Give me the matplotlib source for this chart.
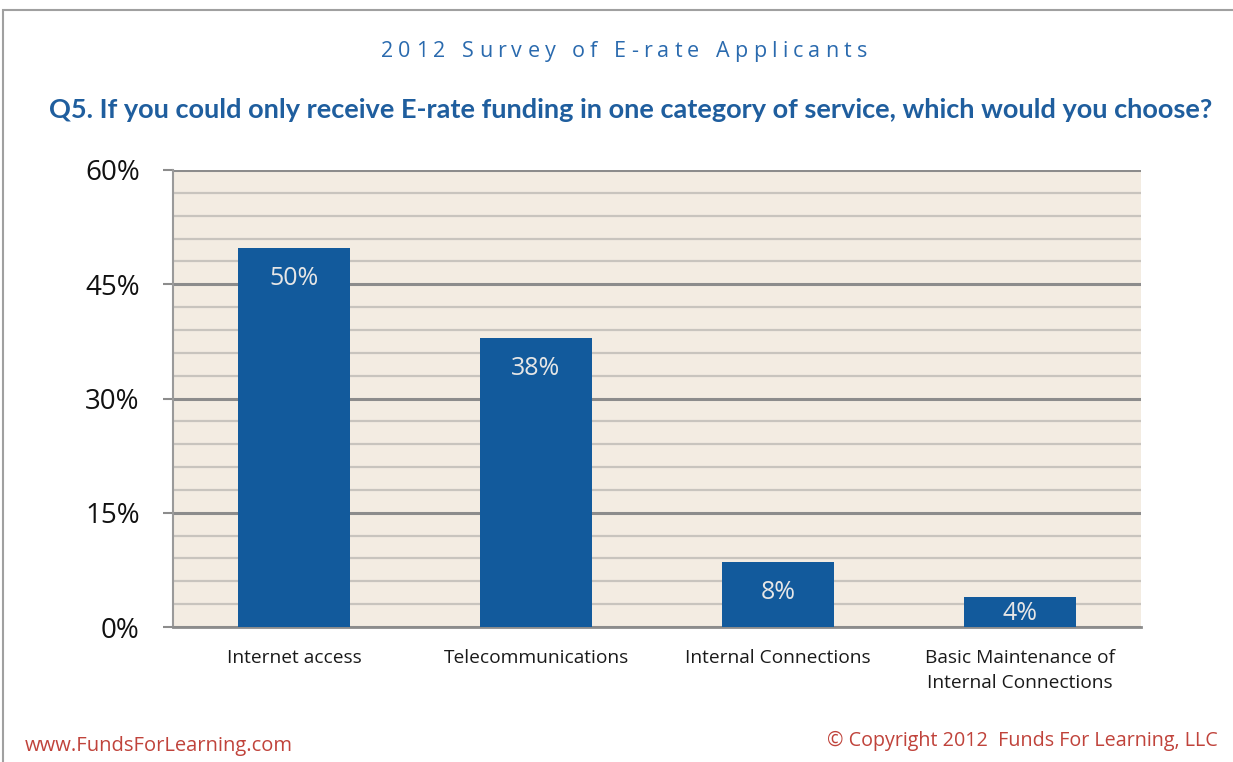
import numpy as np
import matplotlib.pyplot as plt
from matplotlib.ticker import MultipleLocator, FuncFormatter
from matplotlib.patches import Rectangle

categories = ['Internet access', 'Telecommunications', 'Internal Connections',
              'Basic Maintenance of\nInternal Connections']
values = [49.8, 38.0, 8.5, 4.0]
bar_labels = ['50%', '38%', '8%', '4%']

title_top = '2012 Survey of E-rate Applicants'
title_q = 'Q5. If you could only receive E-rate funding in one category of service, which would you choose?'
footer_left = 'www.FundsForLearning.com'
footer_right = '\u00a9 Copyright 2012  Funds For Learning, LLC'

plt.rcParams['font.family'] = ['Open Sans', 'DejaVu Sans']

fig = plt.figure(figsize=(12.33, 7.62), dpi=100)
W, H = 1233, 762
ax = fig.add_axes([173 / W, 1 - 627 / H, (1141 - 173) / W, (627 - 170) / H])

x = np.arange(len(categories))
ax.set_facecolor('#F3ECE2')
ax.bar(x, values, width=0.46, color='#125A9C', zorder=3)
for xi, v, lab in zip(x, values, bar_labels):
    # label sits near the top of the bar, or in the middle of a short one
    ax.text(xi, max(v - 4.0, v / 2 - 0.2), lab, ha='center', va='center',
            color='#E6E6E6', fontsize=18, zorder=4)

ax.set_xlim(-0.5, len(categories) - 0.5)
ax.set_ylim(0, 60)
ax.yaxis.set_major_locator(MultipleLocator(15))
ax.yaxis.set_minor_locator(MultipleLocator(3))
ax.yaxis.set_major_formatter(FuncFormatter(lambda v, p: f'{v:.0f}%'))
ax.grid(which='minor', axis='y', color='#C8C4BE', linewidth=1.6, zorder=1)
ax.grid(which='major', axis='y', color='#8C8C8C', linewidth=2.2, zorder=2)
ax.tick_params(axis='y', which='major', length=7.5, width=1.5, color='#8C8C8C',
               labelsize=20, pad=16.5, labelcolor='#111111')
ax.tick_params(axis='y', which='minor', length=0)
ax.tick_params(axis='x', length=0, labelsize=13.8, pad=16, labelcolor='#1A1A1A')
ax.set_xticks(x)
ax.set_xticklabels(categories, linespacing=1.45)
for s in ['top', 'right']:
    ax.spines[s].set_visible(False)
ax.spines['left'].set_color('#9A9A9A')
ax.spines['left'].set_linewidth(1.5)
ax.spines['bottom'].set_color('#8C8C8C')
ax.spines['bottom'].set_linewidth(2)

# letter-spaced top title, one character at a time
renderer = fig.canvas.get_renderer()
chars = []
total = 0
gap = 5.2
for ch in title_top:
    t = fig.text(0, 0, ch, fontsize=15.5, color='#2A6AAE', va='baseline')
    w = t.get_window_extent(renderer).width if ch != ' ' else 6
    chars.append((t, w))
    total += w + gap
total -= gap
xpos = (624 - total / 2)
for t, w in chars:
    t.set_position((xpos / W, 1 - 57 / H))
    xpos += w + gap

fig.text(631 / W, 1 - 110 / H, title_q, ha='center', va='center',
         fontsize=19.5, fontweight='bold', color='#1F5E9E',
         family=['Lato', 'DejaVu Sans'])

fig.text(25 / W, 1 - 746 / H, footer_left, ha='left', va='center',
         fontsize=14.5, color='#C0433B')
fig.text(1218 / W, 1 - 741 / H, footer_right, ha='right', va='center',
         fontsize=14.2, color='#C0433B')

# thin frame around the chart
fig.add_artist(Rectangle((3 / W, -0.05), 1.2, 1 - 10 / H + 0.05,
                         transform=fig.transFigure, fill=False,
                         edgecolor='#A0A0A0', linewidth=1.5))

fig.savefig('out.png', dpi=100)
